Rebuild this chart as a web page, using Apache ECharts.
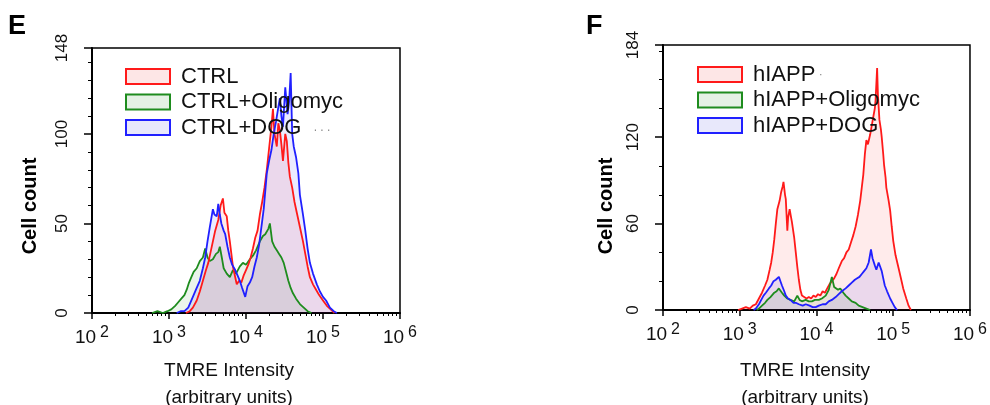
<!DOCTYPE html>
<html>
<head>
<meta charset="utf-8">
<script src="https://cdn.jsdelivr.net/npm/echarts@6/dist/echarts.min.js"></script>
<style>
html,body{margin:0;padding:0;background:#fff;}
#chart{width:990px;height:405px;}
</style>
</head>
<body>
<div id="chart"></div>
<script>
// x values are log10(TMRE intensity); y values are cell counts
const xTickExponents = [2, 3, 4, 5, 6];
const yTicksE = [0, 50, 100, 148];
const yTicksF = [0, 60, 120, 184];
const legendE = ['CTRL', 'CTRL+Oligomyc', 'CTRL+DOG'];
const legendF = ['hIAPP', 'hIAPP+Oligomyc', 'hIAPP+DOG'];

const E_CTRL = [[3.22,0],[3.27,1],[3.31,3],[3.36,7],[3.40,12],[3.44,18],[3.48,24],[3.51,28],[3.54,34],[3.57,40],[3.60,46],[3.64,52],[3.67,60],[3.70,64],[3.72,56],[3.75,54],[3.77,46],[3.79,40],[3.81,33],[3.83,26],[3.86,20],[3.88,16],[3.91,18],[3.94,17],[3.97,21],[4.00,24],[4.03,27],[4.06,31],[4.09,36],[4.12,42],[4.15,46],[4.18,55],[4.21,62],[4.24,70],[4.27,80],[4.30,92],[4.33,104],[4.35,114],[4.37,100],[4.40,93],[4.42,106],[4.44,102],[4.46,94],[4.48,85],[4.51,100],[4.53,96],[4.55,84],[4.57,76],[4.60,70],[4.63,62],[4.66,56],[4.70,48],[4.74,40],[4.77,33],[4.80,26],[4.83,20],[4.87,16],[4.91,13],[4.95,10],[5.00,7],[5.05,4],[5.10,2],[5.15,0]];
const E_OLIGO = [[2.78,0],[2.85,1],[2.92,0],[2.98,1],[3.03,2],[3.08,4],[3.12,6],[3.16,8],[3.20,10],[3.23,13],[3.26,17],[3.29,20],[3.32,23],[3.36,25],[3.40,29],[3.44,31],[3.47,36],[3.50,31],[3.53,29],[3.57,30],[3.61,33],[3.64,34],[3.66,37],[3.69,30],[3.71,25],[3.75,22],[3.79,20],[3.83,24],[3.87,22],[3.92,26],[3.96,28],[4.00,27],[4.05,30],[4.09,32],[4.13,35],[4.18,40],[4.22,43],[4.25,44],[4.29,47],[4.31,50],[4.34,40],[4.37,37],[4.40,35],[4.43,33],[4.46,31],[4.49,28],[4.52,23],[4.55,18],[4.58,14],[4.61,11],[4.65,8],[4.70,5],[4.75,3],[4.80,1],[4.85,0]];
const E_DOG = [[3.10,0],[3.15,1],[3.20,1],[3.25,3],[3.31,9],[3.35,13],[3.40,18],[3.44,25],[3.47,31],[3.50,40],[3.53,48],[3.57,58],[3.59,55],[3.62,54],[3.64,61],[3.66,55],[3.68,50],[3.71,46],[3.73,44],[3.76,37],[3.79,31],[3.82,27],[3.86,24],[3.89,21],[3.92,18],[3.95,14],[3.99,9],[4.02,15],[4.05,17],[4.08,20],[4.11,26],[4.14,31],[4.17,38],[4.20,48],[4.23,58],[4.27,78],[4.30,85],[4.33,91],[4.36,100],[4.39,107],[4.42,115],[4.44,120],[4.46,110],[4.48,104],[4.51,126],[4.54,111],[4.56,118],[4.58,134],[4.60,100],[4.62,93],[4.65,87],[4.68,78],[4.70,66],[4.74,55],[4.77,46],[4.80,36],[4.83,28],[4.87,22],[4.92,16],[4.96,12],[5.00,9],[5.04,7],[5.09,3],[5.14,1],[5.18,0]];

const F_HIAPP = [[2.98,0],[3.03,1],[3.08,2],[3.13,1],[3.17,3],[3.21,4],[3.25,8],[3.29,12],[3.33,17],[3.36,21],[3.39,28],[3.41,33],[3.43,40],[3.45,49],[3.47,60],[3.49,70],[3.52,76],[3.54,82],[3.56,86],[3.57,89],[3.59,80],[3.60,77],[3.62,55],[3.63,64],[3.65,70],[3.67,64],[3.68,61],[3.71,50],[3.73,40],[3.75,30],[3.77,21],[3.79,14],[3.81,10],[3.84,9],[3.87,8],[3.90,9],[3.93,8],[3.96,10],[3.99,9],[4.02,11],[4.05,10],[4.08,13],[4.11,12],[4.14,15],[4.17,18],[4.20,20],[4.23,22],[4.26,25],[4.29,29],[4.33,34],[4.36,36],[4.39,40],[4.42,42],[4.45,47],[4.48,52],[4.51,58],[4.54,66],[4.57,76],[4.59,85],[4.61,94],[4.63,108],[4.65,118],[4.67,115],[4.70,122],[4.72,128],[4.74,134],[4.76,140],[4.77,146],[4.79,168],[4.80,150],[4.82,132],[4.84,125],[4.85,120],[4.87,108],[4.88,101],[4.90,92],[4.91,85],[4.94,76],[4.96,69],[4.98,58],[5.00,48],[5.03,38],[5.07,29],[5.10,22],[5.13,15],[5.17,8],[5.20,3],[5.23,0]];
const F_OLIGO = [[3.22,0],[3.25,1],[3.29,3],[3.33,5],[3.36,7],[3.40,9],[3.45,12],[3.48,13],[3.51,15],[3.53,14],[3.55,12],[3.58,10],[3.62,8],[3.66,7],[3.71,6],[3.75,10],[3.78,7],[3.81,6],[3.86,7],[3.90,6],[3.94,6],[3.98,7],[4.03,7],[4.07,8],[4.12,10],[4.16,14],[4.20,23],[4.23,16],[4.25,15],[4.28,14],[4.31,15],[4.35,12],[4.38,10],[4.42,8],[4.46,6],[4.51,5],[4.55,3],[4.60,2],[4.65,1],[4.70,0]];
const F_DOG = [[3.18,0],[3.21,1],[3.25,4],[3.28,7],[3.31,10],[3.34,12],[3.38,15],[3.41,17],[3.44,20],[3.47,21],[3.49,22],[3.51,23],[3.53,20],[3.55,17],[3.58,13],[3.60,10],[3.63,8],[3.66,7],[3.70,5],[3.73,5],[3.77,4],[3.82,3],[3.86,4],[3.91,3],[3.95,2],[3.99,2],[4.03,3],[4.08,4],[4.12,4],[4.16,6],[4.20,7],[4.25,9],[4.29,11],[4.33,13],[4.38,15],[4.42,17],[4.46,19],[4.50,21],[4.53,22],[4.56,23],[4.59,25],[4.62,27],[4.65,29],[4.68,33],[4.71,42],[4.73,36],[4.76,31],[4.78,28],[4.81,33],[4.83,30],[4.85,27],[4.87,22],[4.89,17],[4.92,13],[4.96,8],[4.99,5],[5.02,2],[5.05,0]];

const FONT = 'Liberation Sans, Arial, sans-serif';
const RED = '#ff1a1a', GREEN = '#1e8c1e', BLUE = '#2020ff';
const FILL_RED = 'rgba(255,0,0,0.08)', FILL_GREEN = 'rgba(0,120,0,0.08)', FILL_BLUE = 'rgba(0,0,255,0.08)';
const LEG_RED = '#fde6e6', LEG_GREEN = '#e4f1e4', LEG_BLUE = '#e8e8fb';

function minorLogTicks() {
  const out = [];
  for (let d = 2; d < 6; d++) for (let k = 2; k <= 9; k++) out.push(d + Math.log10(k));
  return out;
}
function minorLinear(max, step, majors) {
  const out = [];
  for (let v = step; v < max; v += step) if (majors.indexOf(v) < 0) out.push(v);
  return out;
}

function xAxes(gi) {
  return [{
    gridIndex: gi, type: 'value', min: 2, max: 6,
    axisLine: { show: true, onZero: false, lineStyle: { color: '#000', width: 2 } },
    axisTick: { show: true, customValues: xTickExponents, length: 6, lineStyle: { color: '#000', width: 1.5 } },
    axisLabel: {
      customValues: xTickExponents, margin: 12,
      formatter: v => '{a|10}{b|' + v + '}',
      rich: {
        a: { fontFamily: FONT, fontSize: 19, color: '#111', lineHeight: 22, verticalAlign: 'bottom' },
        b: { fontFamily: FONT, fontSize: 16, color: '#111', lineHeight: 18, verticalAlign: 'top', padding: [0, 0, 0, 4] }
      }
    },
    splitLine: { show: false }
  }, {
    gridIndex: gi, type: 'value', min: 2, max: 6, position: 'bottom',
    axisLine: { show: false },
    axisTick: { show: true, customValues: minorLogTicks(), length: 3, lineStyle: { color: '#000', width: 1 } },
    axisLabel: { show: false },
    splitLine: { show: false }
  }];
}
function yAxes(gi, max, majors, step) {
  return [{
    gridIndex: gi, type: 'value', min: 0, max: max,
    axisLine: { show: true, onZero: false, lineStyle: { color: '#000', width: 2 } },
    axisTick: { show: true, customValues: majors, length: 8, lineStyle: { color: '#000', width: 1.5 } },
    axisLabel: { customValues: majors, rotate: 90, margin: 21, fontFamily: FONT, fontSize: 17, color: '#111' },
    splitLine: { show: false }
  }, {
    gridIndex: gi, type: 'value', min: 0, max: max, position: 'left',
    axisLine: { show: false },
    axisTick: { show: true, customValues: minorLinear(max, step, majors), length: 4, lineStyle: { color: '#000', width: 1 } },
    axisLabel: { show: false },
    splitLine: { show: false }
  }];
}
function histSeries(name, data, color, fill, xi, yi) {
  return {
    name: name, type: 'line', data: data, xAxisIndex: xi, yAxisIndex: yi,
    symbol: 'none', showSymbol: false, smooth: false,
    lineStyle: { color: color, width: 1.8 },
    itemStyle: { color: color },
    areaStyle: { color: fill, opacity: 1 },
    silent: true
  };
}
function legendCfg(names, left, top) {
  const fills = [LEG_RED, LEG_GREEN, LEG_BLUE];
  const cols = [RED, GREEN, BLUE];
  return {
    show: true, orient: 'vertical', left: left, top: top,
    icon: 'rect', itemWidth: 44, itemHeight: 15, itemGap: 0.5,
    selectedMode: false,
    data: names.map((n, i) => ({ name: n, icon: 'rect', itemStyle: { color: fills[i], borderColor: cols[i], borderWidth: 2 } })),
    formatter: n => {
      if (n === 'CTRL+DOG') return '{n|' + n + '}  {d|. . .}';
      if (n === 'hIAPP') return '{n|' + n + '}{d| ·}';
      return '{n|' + n + '}';
    },
    textStyle: {
      fontFamily: FONT, fontSize: 22, color: '#111', lineHeight: 25, padding: [0, 0, 0, 6],
      rich: {
        n: { fontFamily: FONT, fontSize: 22, color: '#111', lineHeight: 25 },
        d: { fontFamily: FONT, fontSize: 12, color: '#888', lineHeight: 25 }
      }
    }
  };
}

const chart = echarts.init(document.getElementById('chart'), null, { renderer: 'canvas' });
chart.setOption({
  animation: false,
  backgroundColor: '#fff',
  grid: [
    { left: 92, top: 48, width: 308, height: 265, show: true, borderColor: '#000', borderWidth: 1.5, backgroundColor: 'transparent' },
    { left: 663, top: 45, width: 309, height: 265, show: true, borderColor: '#000', borderWidth: 1.5, backgroundColor: 'transparent' }
  ],
  xAxis: [...xAxes(0), ...xAxes(1)],
  yAxis: [...yAxes(0, 148, yTicksE, 10), ...yAxes(1, 184, yTicksF, 20)],
  legend: [legendCfg(legendE, 120, 59), legendCfg(legendF, 692, 57)],
  series: [
    histSeries('CTRL+Oligomyc', E_OLIGO, GREEN, FILL_GREEN, 0, 0),
    histSeries('CTRL', E_CTRL, RED, FILL_RED, 0, 0),
    histSeries('CTRL+DOG', E_DOG, BLUE, FILL_BLUE, 0, 0),
    histSeries('hIAPP', F_HIAPP, RED, FILL_RED, 2, 2),
    histSeries('hIAPP+Oligomyc', F_OLIGO, GREEN, FILL_GREEN, 2, 2),
    histSeries('hIAPP+DOG', F_DOG, BLUE, FILL_BLUE, 2, 2)
  ],
  graphic: [
    { type: 'text', left: 8, top: 13, style: { text: 'E', font: 'bold 27px ' + FONT, fill: '#000' } },
    { type: 'text', left: 586, top: 13, style: { text: 'F', font: 'bold 27px ' + FONT, fill: '#000' } },
    { type: 'text', x: 30, y: 206, rotation: Math.PI / 2, style: { text: 'Cell count', font: 'bold 20px ' + FONT, fill: '#000', align: 'center', verticalAlign: 'middle' } },
    { type: 'text', x: 606, y: 206, rotation: Math.PI / 2, style: { text: 'Cell count', font: 'bold 20px ' + FONT, fill: '#000', align: 'center', verticalAlign: 'middle' } },
    { type: 'text', x: 229, y: 384, style: { text: 'TMRE Intensity\n(arbitrary units)', font: '19px ' + FONT, lineHeight: 27, fill: '#111', align: 'center', verticalAlign: 'middle' } },
    { type: 'text', x: 805, y: 384, style: { text: 'TMRE Intensity\n(arbitrary units)', font: '19px ' + FONT, lineHeight: 27, fill: '#111', align: 'center', verticalAlign: 'middle' } }
  ]
});
</script>
</body>
</html>
